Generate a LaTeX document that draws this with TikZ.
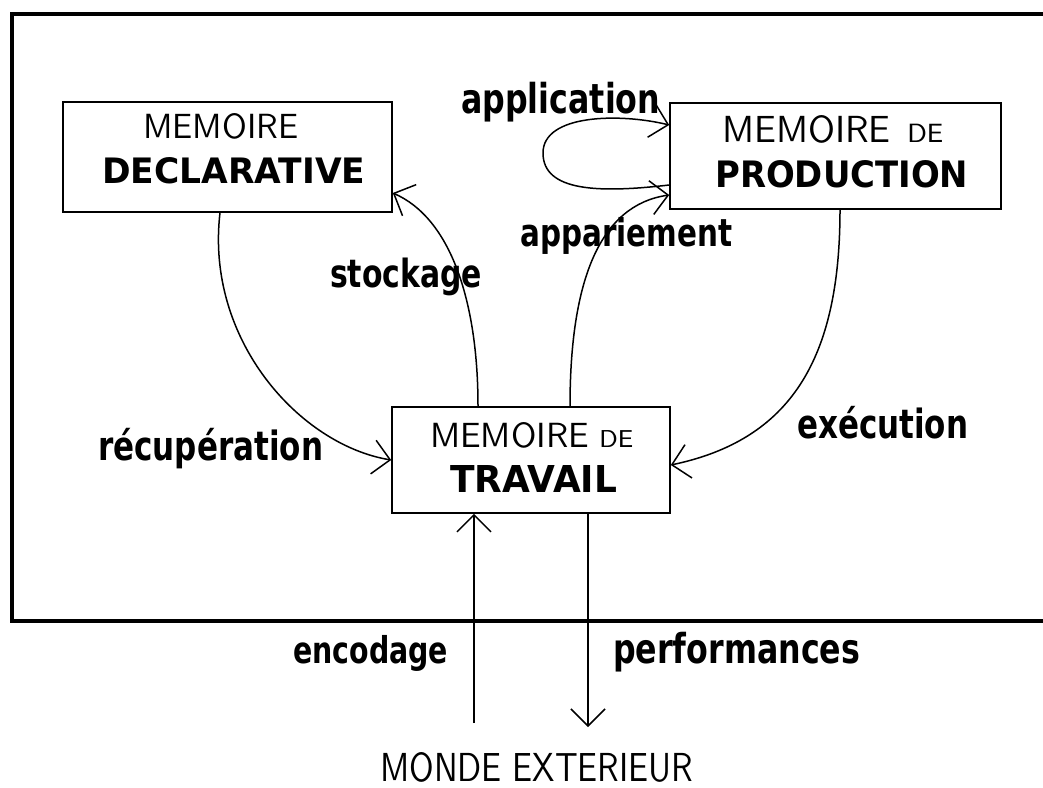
\documentclass[tikz,border=0pt]{standalone}
\usepackage{fontspec}
\usepackage{graphicx}
\usetikzlibrary{arrows.meta}
\newfontfamily\dvs{DejaVu Sans}
\newcommand\lbl[2]{\resizebox{#1}{!}{\scalebox{1}[1.3]{\dvs\bfseries #2}}}
\newcommand\capsfit[3]{\resizebox{#1}{#2}{#3}}
\newcommand\thinw[1]{{\sffamily #1}}
\newcommand\boldw[1]{{\dvs\bfseries #1}}
\begin{document}
\begin{tikzpicture}[x=1pt,y=-1pt,
  box/.style={draw, line width=1.6pt, inner sep=0pt},
  txt/.style={inner sep=0pt, anchor=base west},
  frame/.style={line width=4.5pt, line cap=rect},
  conn/.style={line width=1.5pt, -{Straight Barb[length=17pt,width=34pt,line width=1.5pt]}},
  plain/.style={line width=1.5pt}]
\useasboundingbox (0,0) rectangle (1043,787);
\fill[white] (0,0) rectangle (1043,787);

% outer frame (open on the right)
\draw[frame] (1043,14) -- (12,14) -- (12,621) -- (1043,621);

% boxes
\node[box, minimum width=329pt, minimum height=110pt] (decl) at (227.5,157) {};
\node[box, minimum width=331pt, minimum height=106pt] (prod) at (835.5,156) {};
\node[box, minimum width=278pt, minimum height=106pt] (trav) at (531,460) {};

% box texts
\node[txt] (declA) at (143,138) {\capsfit{155pt}{25pt}{\thinw{MEMOIRE}}};
\node[txt] (declB) at (102,183) {\capsfit{263pt}{26pt}{\boldw{DECLARATIVE}}};
\node[txt] (prodA) at (722,142) {\capsfit{221pt}{27pt}{\thinw{MEMOIRE\hspace{0.45em}\fontsize{7}{8}\selectfont DE}}};
\node[txt] (prodB) at (715,187) {\capsfit{253pt}{27pt}{\boldw{PRODUCTION}}};
\node[txt] (travA) at (430,447) {\capsfit{203pt}{25pt}{\thinw{MEMOIRE\hspace{0.3em}\fontsize{7}{8}\selectfont DE}}};
\node[txt] (travB) at (450,492) {\capsfit{167pt}{27pt}{\boldw{TRAVAIL}}};
\node[txt] (monde) at (380,781) {\capsfit{313pt}{29pt}{\thinw{MONDE EXTERIEUR}}};

% labels
\node[txt] (lapp) at (461,113) {\lbl{199pt}{application}};
\node[txt] (lappar) at (520,246) {\lbl{212pt}{appariement}};
\node[txt] (lstock) at (330,287) {\lbl{152pt}{stockage}};
\node[txt] (lrecup) at (98,460) {\lbl{225pt}{récupération}};
\node[txt] (lexec) at (797,438) {\lbl{171pt}{exécution}};
\node[txt] (lenc) at (293,663) {\lbl{155pt}{encodage}};
\node[txt] (lperf) at (613,663) {\lbl{247pt}{performances}};

% connectors
% stockage
\draw[conn] ([xshift=-53pt]trav.north) .. controls (478,300) and (450,218) .. ([yshift=-36pt]decl.east);
% appariement
\draw[conn] ([xshift=39pt]trav.north) .. controls (570,280) and (600,205) .. ([yshift=-39pt]prod.west);
% recuperation
\draw[conn] ([xshift=-7.5pt]decl.south) .. controls (205,340) and (300,445) .. (trav.west);
% execution
\draw[conn] ([xshift=4.5pt]prod.south) .. controls (840,360) and (790,440) .. ([yshift=-5pt]trav.east);
% application loop
\draw[conn] ([yshift=-29pt]prod.west) .. controls (600,193) and (543,192) .. (543,153)
   .. controls (543,114) and (620,113) .. ([yshift=31pt]prod.west);
% external world
\coordinate (encin) at (474,723);
\coordinate (perfout) at (588,727);
\draw[conn] (encin) -- ([xshift=-57pt]trav.south);
\draw[conn] ([xshift=57pt]trav.south) -- (perfout);
\end{tikzpicture}
\end{document}
